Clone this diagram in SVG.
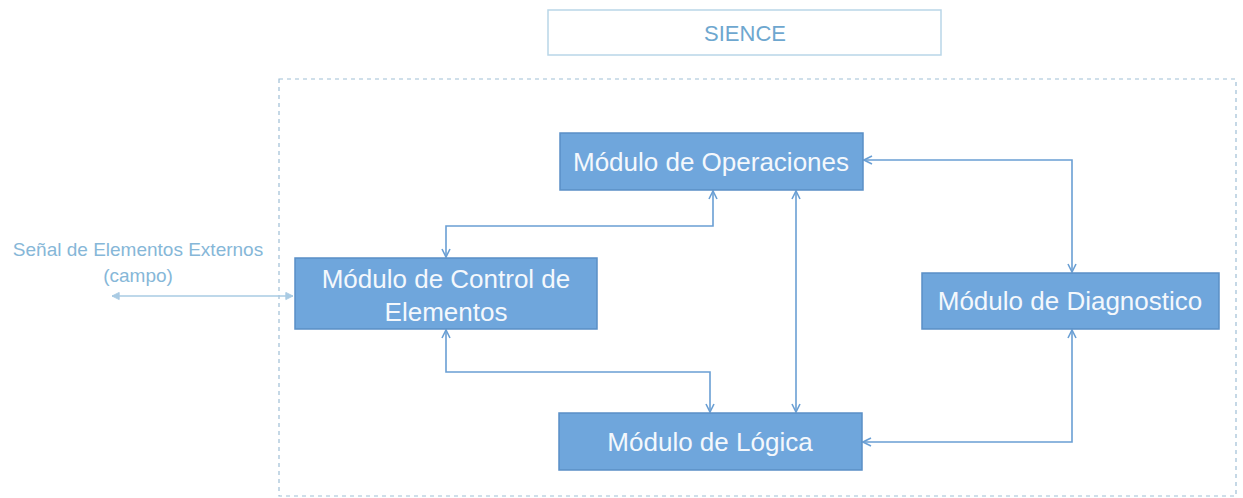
<svg xmlns="http://www.w3.org/2000/svg" width="1243" height="498" viewBox="0 0 1243 498">
<defs>
<style>
.node rect{fill:#6fa6dc;stroke:#5a8fc6;stroke-width:1.5}
.node text{fill:#f4f8fc;font-family:"Liberation Sans",Arial,sans-serif;font-size:26px;text-anchor:middle}
.conn{fill:none;stroke:#6a9fd4;stroke-width:1.6}
.ext{fill:none;stroke:#a9cbe3;stroke-width:1.4}
.lbl{fill:#86b7d8;font-family:"Liberation Sans",Arial,sans-serif;font-size:19px;text-anchor:middle}
</style>
<marker id="ah" viewBox="0 0 10 10" refX="9" refY="5" markerWidth="10" markerHeight="10" markerUnits="userSpaceOnUse" orient="auto-start-reverse">
<path d="M1,1 L9,5 L1,9" fill="none" stroke="#6a9fd4" stroke-width="1.6"/>
</marker>
<marker id="ah2" viewBox="0 0 10 10" refX="9" refY="5" markerWidth="9" markerHeight="9" markerUnits="userSpaceOnUse" orient="auto-start-reverse">
<path d="M1,1 L9,5 L1,9 Z" fill="#a9cbe3" stroke="#a9cbe3" stroke-width="1"/>
</marker>
</defs>
<rect width="1243" height="498" fill="#ffffff"/>
<g id="title">
<rect x="548" y="10" width="393" height="45" fill="#ffffff" stroke="#b9d6e8" stroke-width="1.5"/>
<text x="745" y="41" fill="#6ea7cf" font-family="Liberation Sans,Arial,sans-serif" font-size="22" text-anchor="middle">SIENCE</text>
</g>
<g id="container">
<rect x="279" y="79" width="957" height="417" fill="none" stroke="#9fbfd6" stroke-width="1.2" stroke-dasharray="4,4"/>
</g>
<g id="external-signal">
<text class="lbl" x="138" y="256">Señal de Elementos Externos</text>
<text class="lbl" x="138" y="282">(campo)</text>
</g>
<g id="connectors">
<path class="ext" d="M112,296 L293,296" marker-start="url(#ah2)" marker-end="url(#ah2)"/>
<path class="conn" d="M713,191 L713,226 L446,226 L446,257" marker-start="url(#ah)" marker-end="url(#ah)"/>
<path class="conn" d="M446,330 L446,372 L710,372 L710,412" marker-start="url(#ah)" marker-end="url(#ah)"/>
<path class="conn" d="M796,191 L796,412" marker-start="url(#ah)" marker-end="url(#ah)"/>
<path class="conn" d="M864,160 L1072,160 L1072,272" marker-start="url(#ah)" marker-end="url(#ah)"/>
<path class="conn" d="M1072,330 L1072,442 L863,442" marker-start="url(#ah)" marker-end="url(#ah)"/>
</g>
<g id="operaciones" class="node">
<rect x="560" y="133" width="303" height="57"/>
<text x="711" y="171">Módulo de Operaciones</text>
</g>
<g id="control" class="node">
<rect x="295" y="258" width="302" height="71"/>
<text x="446" y="288">Módulo de Control de</text>
<text x="446" y="321">Elementos</text>
</g>
<g id="logica" class="node">
<rect x="559" y="413" width="303" height="57"/>
<text x="710" y="451">Módulo de Lógica</text>
</g>
<g id="diagnostico" class="node">
<rect x="922" y="273" width="297" height="56"/>
<text x="1070" y="310">Módulo de Diagnostico</text>
</g>
</svg>
